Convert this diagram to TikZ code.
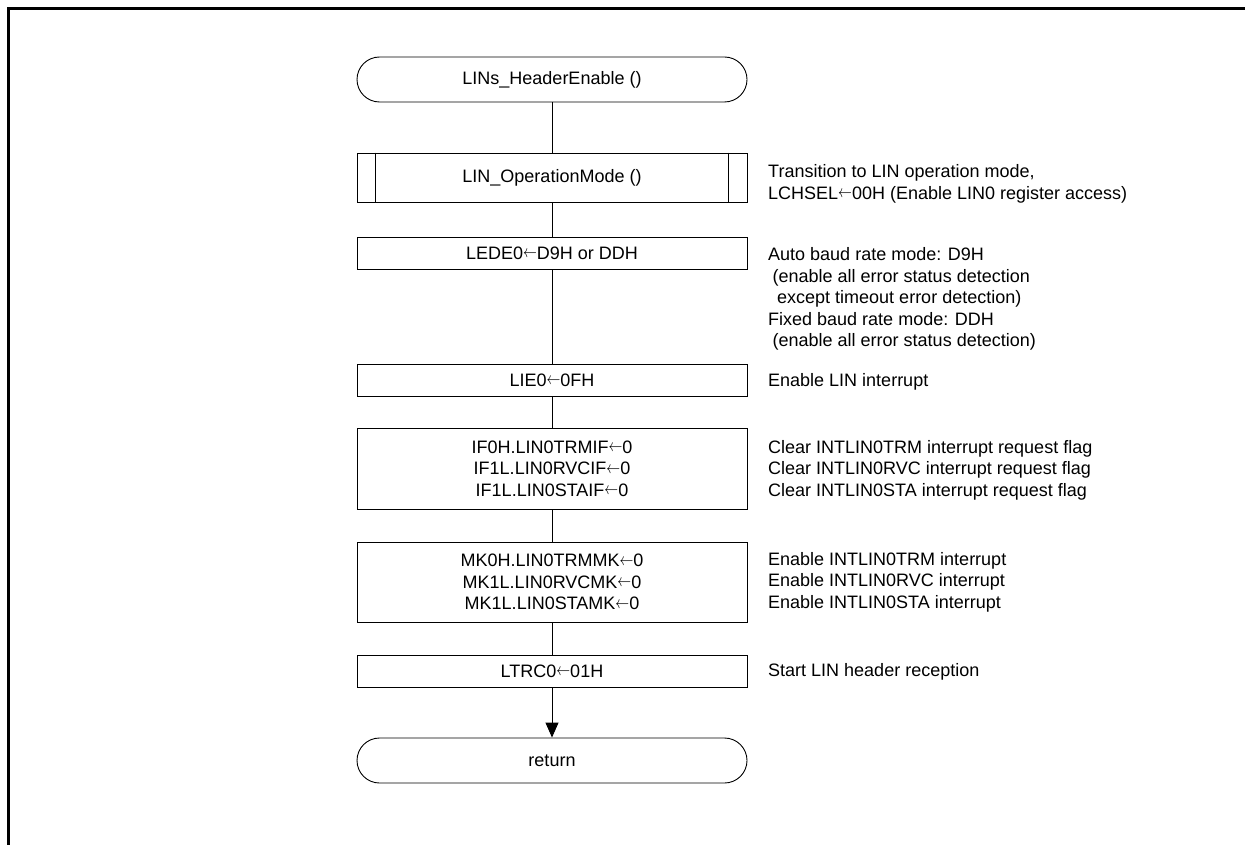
\documentclass[tikz,border=0pt]{standalone}
\usepackage{fontspec}
\setmainfont{Liberation Sans}
\usepackage{tikz}
\usetikzlibrary{shapes}
\usetikzlibrary{arrows.meta}
\newcommand{\larr}{\raisebox{1.6pt}{\scalebox{0.8}[1]{$\leftarrow$}}}

\begin{document}
\begin{tikzpicture}[x=1pt,y=-1pt]
\tikzstyle{every node}=[font=\fontsize{18}{21.5}\selectfont]
\tikzstyle{terminal}=[draw,line width=0.9pt,rounded corners=22.5pt,minimum width=390pt,minimum height=45pt,inner sep=0pt]
\tikzstyle{process}=[draw,line width=0.9pt,minimum width=390pt,inner sep=0pt,align=center]
\tikzstyle{note}=[anchor=west,inner sep=0pt,align=left]
\tikzstyle{flow}=[line width=0.9pt]
\useasboundingbox (0,0) rectangle (1245,845);
% page frame
\draw[line width=3pt] (8.5,845) -- (8.5,8.5) -- (1245,8.5);

% flow chart
\node[terminal] (start) at (552,79.5) {LINs\_HeaderEnable ()};
\node[process,minimum height=49pt] (opmode) at (552,177.5) {LIN\_OperationMode ()};
\draw[flow] ([xshift=19pt]opmode.north west) -- ([xshift=19pt]opmode.south west);
\draw[flow] ([xshift=-19pt]opmode.north east) -- ([xshift=-19pt]opmode.south east);
\node[process,minimum height=32pt] (lede) at (552,253) {LEDE0\larr D9H or DDH};
\node[process,minimum height=32pt] (lie) at (552,380) {LIE0\larr 0FH};
\node[process,minimum height=81pt] (flag) at (552,468.5) {IF0H.LIN0TRMIF\larr 0\\IF1L.LIN0RVCIF\larr 0\\IF1L.LIN0STAIF\larr 0};
\node[process,minimum height=80pt] (mask) at (552,582) {MK0H.LIN0TRMMK\larr 0\\MK1L.LIN0RVCMK\larr 0\\MK1L.LIN0STAMK\larr 0};
\node[process,minimum height=32pt] (ltrc) at (552,671) {LTRC0\larr 01H};
\node[terminal] (ret) at (552,760.5) {return};

\draw[flow] (start) -- (opmode);
\draw[flow] (opmode) -- (lede);
\draw[flow] (lede) -- (lie);
\draw[flow] (lie) -- (flag);
\draw[flow] (flag) -- (mask);
\draw[flow] (mask) -- (ltrc);
\draw[flow,-{Triangle[length=15pt,width=13pt]}] (ltrc) -- (ret);

% comments
\node[note] (c1) at (768,184) {Transition to LIN operation mode,\\LCHSEL\larr 00H (Enable LIN0 register access)};
\node[note] (c2) at (768,299) {Auto baud rate mode: D9H\\\hspace*{0.25em}(enable all error status detection\\\hspace*{0.5em}except timeout error detection)\\Fixed baud rate mode: DDH\\\hspace*{0.25em}(enable all error status detection)};
\node[note] (c3) at (768,382) {Enable LIN interrupt};
\node[note] (c4) at (768,470) {Clear INTLIN0TRM interrupt request flag\\Clear INTLIN0RVC interrupt request flag\\Clear INTLIN0STA interrupt request flag};
\node[note] (c5) at (768,582) {Enable INTLIN0TRM interrupt\\Enable INTLIN0RVC interrupt\\Enable INTLIN0STA interrupt};
\node[note] (c6) at (768,672) {Start LIN header reception};
\end{tikzpicture}
\end{document}
